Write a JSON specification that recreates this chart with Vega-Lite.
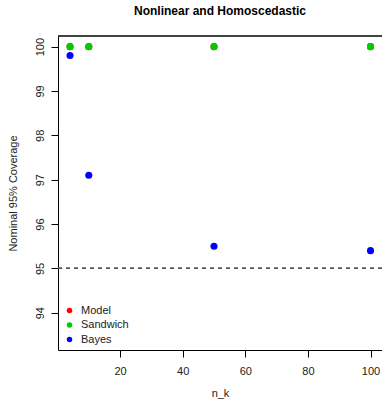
{
  "$schema": "https://vega.github.io/schema/vega-lite/v6.json",
  "width": 324,
  "height": 314,
  "autosize": "none",
  "padding": {"left": 58, "top": 36, "right": 0, "bottom": 53},
  "background": "white",
  "view": {"stroke": null},
  "title": {"text": "Nonlinear and Homoscedastic", "font": "Liberation Sans", "fontSize": 12, "fontWeight": "bold", "color": "#000", "anchor": "middle", "offset": 18},
  "config": {
    "axis": {"labelFont": "Liberation Sans", "titleFont": "Liberation Sans", "labelFontSize": 11, "titleFontSize": 11, "labelColor": "#222", "titleColor": "#222", "titleFontWeight": "normal", "domainColor": "#000", "tickColor": "#000", "tickSize": 7, "grid": false}
  },
  "data": {"values": [
    {"method": "Model", "n_k": 4, "coverage": 100},
    {"method": "Model", "n_k": 10, "coverage": 100},
    {"method": "Model", "n_k": 50, "coverage": 100},
    {"method": "Model", "n_k": 100, "coverage": 100},
    {"method": "Sandwich", "n_k": 4, "coverage": 100},
    {"method": "Sandwich", "n_k": 10, "coverage": 100},
    {"method": "Sandwich", "n_k": 50, "coverage": 100},
    {"method": "Sandwich", "n_k": 100, "coverage": 100},
    {"method": "Bayes", "n_k": 4, "coverage": 99.8},
    {"method": "Bayes", "n_k": 10, "coverage": 97.1},
    {"method": "Bayes", "n_k": 50, "coverage": 95.5},
    {"method": "Bayes", "n_k": 100, "coverage": 95.4}
  ]},
  "layer": [
    {
      "mark": {"type": "rule", "color": "#555", "strokeDash": [4, 4], "strokeWidth": 1},
      "encoding": {"y": {"datum": 95, "type": "quantitative"}}
    },
    {
      "mark": {"type": "rule", "color": "#444", "strokeWidth": 1},
      "encoding": {"y": {"datum": 100.24, "type": "quantitative"}}
    },
    {
      "mark": {"type": "point", "filled": true, "shape": "circle", "size": 50, "opacity": 1},
      "encoding": {
        "x": {"field": "n_k", "type": "quantitative",
          "scale": {"domain": [0.16, 103.67], "nice": false, "zero": false},
          "axis": {"values": [20, 40, 60, 80, 100], "title": "n_k", "labelPadding": 8, "titleY": 43, "titleBaseline": "middle"}},
        "y": {"field": "coverage", "type": "quantitative",
          "scale": {"domain": [93.16, 100.24], "nice": false, "zero": false},
          "axis": {"values": [94, 95, 96, 97, 98, 99, 100], "title": "Nominal 95% Coverage", "labelAngle": -90, "labelAlign": "center", "labelBaseline": "bottom", "labelPadding": 6, "titleX": -45, "titleY": 157, "titleAngle": -90, "titleAlign": "center", "titleBaseline": "middle"}},
        "color": {"field": "method", "type": "nominal",
          "scale": {"domain": ["Model", "Sandwich", "Bayes"], "range": ["#FF0000", "#00CD00", "#0000FF"]},
          "legend": {"title": null, "orient": "none", "legendX": 6, "legendY": 269, "labelFont": "Liberation Sans", "labelFontSize": 11, "labelColor": "#222", "symbolSize": 30, "symbolType": "circle", "rowPadding": 2.5, "labelOffset": 6}}
      }
    }
  ]
}
